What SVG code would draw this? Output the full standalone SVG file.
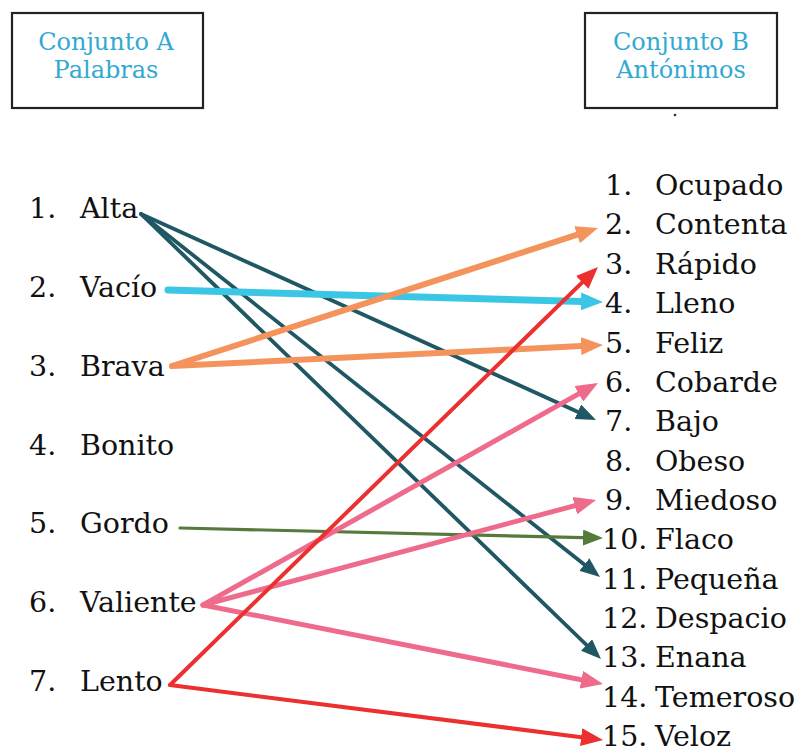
<svg xmlns="http://www.w3.org/2000/svg" width="798" height="754" viewBox="0 0 798 754">
<style>
.box{fill:#fff;stroke:#222;stroke-width:2.2}
.hdr{font-family:"DejaVu Serif","Liberation Serif",serif;font-size:24px;fill:#33a9d2;text-anchor:middle}
.lbl{font-family:"DejaVu Serif","Liberation Serif",serif;font-size:28.5px;fill:#111}
.c{fill:none;stroke-linecap:round;stroke-linejoin:round}
.teal{stroke:#1f5864;stroke-width:3.8}
.cyan{stroke:#3cc6e6;stroke-width:7}
.orange{stroke:#f5935c;stroke-width:6}
.green{stroke:#557a3c;stroke-width:3.2}
.pink{stroke:#ef6b8b;stroke-width:5}
.red{stroke:#ec2f2f;stroke-width:4}
</style>
<defs>
<marker id="mTeal" markerUnits="userSpaceOnUse" markerWidth="20" markerHeight="16" refX="10" refY="8" orient="auto"><path d="M0,0 L20,8 L0,16 z" fill="#1f5864"/></marker>
<marker id="mGreen" markerUnits="userSpaceOnUse" markerWidth="20" markerHeight="16" refX="10" refY="8" orient="auto"><path d="M0,0 L20,8 L0,16 z" fill="#557a3c"/></marker>
<marker id="mCyan" markerUnits="userSpaceOnUse" markerWidth="22" markerHeight="18" refX="10" refY="9" orient="auto"><path d="M0,0 L22,9 L0,18 z" fill="#3cc6e6"/></marker>
<marker id="mOrange" markerUnits="userSpaceOnUse" markerWidth="22" markerHeight="18" refX="10" refY="9" orient="auto"><path d="M0,0 L22,9 L0,18 z" fill="#f5935c"/></marker>
<marker id="mPink" markerUnits="userSpaceOnUse" markerWidth="22" markerHeight="18" refX="10" refY="9" orient="auto"><path d="M0,0 L22,9 L0,18 z" fill="#ef6b8b"/></marker>
<marker id="mRed" markerUnits="userSpaceOnUse" markerWidth="22" markerHeight="18" refX="10" refY="9" orient="auto"><path d="M0,0 L22,9 L0,18 z" fill="#ec2f2f"/></marker>
</defs>
<rect width="798" height="754" fill="#fff"/>

<g id="boxA">
<rect class="box" x="12" y="13" width="191" height="95"/>
<text class="hdr" x="106" y="50">Conjunto A</text>
<text class="hdr" x="106" y="78">Palabras</text>
</g>
<g id="boxB">
<rect class="box" x="585" y="13" width="192" height="95"/>
<text class="hdr" x="681" y="50">Conjunto B</text>
<text class="hdr" x="681" y="78">Antónimos</text>
</g>
<circle cx="675" cy="115" r="1.3" fill="#333"/>

<g id="setA">
<g id="a1"><text class="lbl" x="29" y="218">1.</text><text class="lbl" x="80" y="218">Alta</text></g>
<g id="a2"><text class="lbl" x="29" y="297">2.</text><text class="lbl" x="80" y="297">Vacío</text></g>
<g id="a3"><text class="lbl" x="29" y="376">3.</text><text class="lbl" x="80" y="376">Brava</text></g>
<g id="a4"><text class="lbl" x="29" y="455">4.</text><text class="lbl" x="80" y="455">Bonito</text></g>
<g id="a5"><text class="lbl" x="29" y="533">5.</text><text class="lbl" x="80" y="533">Gordo</text></g>
<g id="a6"><text class="lbl" x="29" y="612">6.</text><text class="lbl" x="80" y="612">Valiente</text></g>
<g id="a7"><text class="lbl" x="29" y="691">7.</text><text class="lbl" x="80" y="691">Lento</text></g>
</g>

<g id="setB">
<g id="b1"><text class="lbl" x="605" y="195">1.</text><text class="lbl" x="655" y="195">Ocupado</text></g>
<g id="b2"><text class="lbl" x="605" y="234">2.</text><text class="lbl" x="655" y="234">Contenta</text></g>
<g id="b3"><text class="lbl" x="605" y="274">3.</text><text class="lbl" x="655" y="274">Rápido</text></g>
<g id="b4"><text class="lbl" x="605" y="313">4.</text><text class="lbl" x="655" y="313">Lleno</text></g>
<g id="b5"><text class="lbl" x="605" y="353">5.</text><text class="lbl" x="655" y="353">Feliz</text></g>
<g id="b6"><text class="lbl" x="605" y="392">6.</text><text class="lbl" x="655" y="392">Cobarde</text></g>
<g id="b7"><text class="lbl" x="605" y="431">7.</text><text class="lbl" x="655" y="431">Bajo</text></g>
<g id="b8"><text class="lbl" x="605" y="471">8.</text><text class="lbl" x="655" y="471">Obeso</text></g>
<g id="b9"><text class="lbl" x="605" y="510">9.</text><text class="lbl" x="655" y="510">Miedoso</text></g>
<g id="b10"><text class="lbl" x="602" y="549">10.</text><text class="lbl" x="655" y="549">Flaco</text></g>
<g id="b11"><text class="lbl" x="602" y="589">11.</text><text class="lbl" x="655" y="589">Pequeña</text></g>
<g id="b12"><text class="lbl" x="602" y="628">12.</text><text class="lbl" x="655" y="628">Despacio</text></g>
<g id="b13"><text class="lbl" x="602" y="667">13.</text><text class="lbl" x="655" y="667">Enana</text></g>
<g id="b14"><text class="lbl" x="602" y="707">14.</text><text class="lbl" x="655" y="707">Temeroso</text></g>
<g id="b15"><text class="lbl" x="602" y="746">15.</text><text class="lbl" x="655" y="746">Veloz</text></g>
</g>

<g id="connectors">
<line class="c teal" x1="141" y1="214" x2="586.9" y2="415.9" marker-end="url(#mTeal)"/>
<line class="c teal" x1="141" y1="214" x2="592.2" y2="570.8" marker-end="url(#mTeal)"/>
<line class="c teal" x1="141" y1="214" x2="593.8" y2="652.0" marker-end="url(#mTeal)"/>
<line class="c cyan" x1="168" y1="290" x2="591.0" y2="301.7" marker-end="url(#mCyan)"/>
<line class="c orange" x1="172" y1="366" x2="586.6" y2="231.7" marker-end="url(#mOrange)"/>
<line class="c orange" x1="172" y1="366" x2="591.0" y2="345.6" marker-end="url(#mOrange)"/>
<line class="c green" x1="180" y1="528" x2="593.0" y2="537.8" marker-end="url(#mGreen)"/>
<line class="c pink" x1="203" y1="605" x2="587.5" y2="388.9" marker-end="url(#mPink)"/>
<line class="c pink" x1="203" y1="605" x2="584.4" y2="503.1" marker-end="url(#mPink)"/>
<line class="c pink" x1="203" y1="605" x2="591.2" y2="681.7" marker-end="url(#mPink)"/>
<line class="c red" x1="170" y1="685" x2="589.4" y2="275.4" marker-end="url(#mRed)"/>
<line class="c red" x1="170" y1="685" x2="591.1" y2="738.4" marker-end="url(#mRed)"/>
</g>
</svg>
